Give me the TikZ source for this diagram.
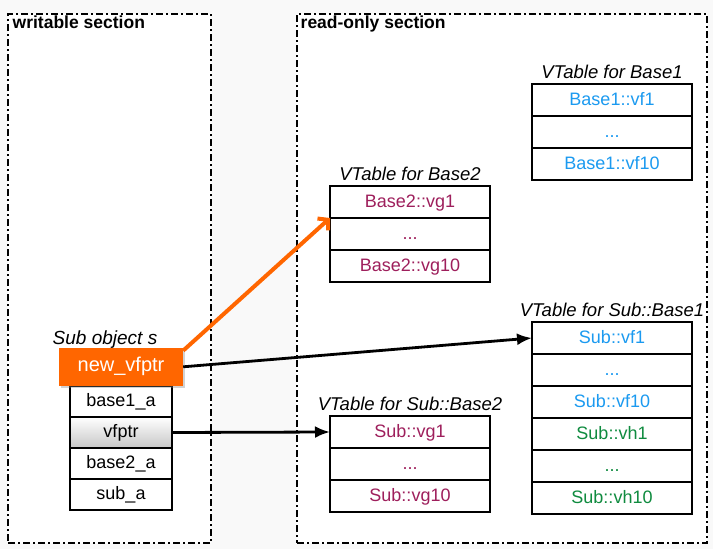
\documentclass[tikz,border=0pt]{standalone}
\usepackage{fontspec}
\setmainfont{Liberation Sans}
\usetikzlibrary{positioning,arrows.meta,shadows}
\definecolor{pagegrey}{HTML}{F9F9F9}
\definecolor{vfblue}{HTML}{1B9AF0}
\definecolor{vgred}{HTML}{9E1F5C}
\definecolor{vhgreen}{HTML}{0F8B3F}
\definecolor{ptrorange}{HTML}{FF6600}
\newcommand{\cellfont}{\fontsize{18}{21}\selectfont}

\begin{document}
\begin{tikzpicture}[x=1pt,y=-1pt,
    section/.style={draw, fill=white, line width=1.3pt, dash pattern=on 7pt off 3pt on 2pt off 3pt,
      anchor=north west, inner sep=0pt, outer sep=0pt},
    secttitle/.style={anchor=north west, inner sep=0pt, font=\fontsize{17.5}{21}\selectfont\bfseries},
    vtitle/.style={inner sep=0pt, font=\fontsize{18.5}{22}\selectfont\itshape},
    slot/.style={draw, line width=1.2pt, fill=white, minimum width=160pt, minimum height=32pt,
      inner sep=0pt, outer sep=0pt, text height=12.5pt, text depth=2pt, font=\cellfont},
    field/.style={slot, minimum width=102pt, minimum height=31pt},
    ptr/.style={line width=2.8pt, -{Latex[length=15pt,width=12pt]}},
    newptr/.style={line width=4pt, draw=ptrorange, -{Straight Barb[length=7pt,width=16pt]}}]
  \fill[pagegrey] (0,0) rectangle (713,549);
  \useasboundingbox (0,0) rectangle (713,549);

  % the two sections
  \node[section, minimum width=203pt, minimum height=529pt] (writable) at (8,14) {};
  \node[section, minimum width=410pt, minimum height=529pt] (readonly) at (297,14) {};
  \node[secttitle, below right=1.5pt and 4.5pt of writable.north west] (wtitle) {writable section};
  \node[secttitle, below right=1.5pt and 3.5pt of readonly.north west] (rtitle) {read-only section};

  % VTable for Base1
  \node[slot, text=vfblue, anchor=north west] (b1r1) at (532,84) {Base1::vf1};
  \node[slot, text=vfblue, below=0pt of b1r1] (b1r2) {...};
  \node[slot, text=vfblue, below=0pt of b1r2] (b1r3) {Base1::vf10};
  \node[vtitle, above=5pt of b1r1] (b1title) {VTable for Base1};

  % VTable for Base2
  \node[slot, text=vgred, anchor=north west] (b2r1) at (330,186) {Base2::vg1};
  \node[slot, text=vgred, below=0pt of b2r1] (b2r2) {...};
  \node[slot, text=vgred, below=0pt of b2r2] (b2r3) {Base2::vg10};
  \node[vtitle, above=5pt of b2r1] (b2title) {VTable for Base2};

  % VTable for Sub::Base1
  \node[slot, text=vfblue, anchor=north west] (sb1r1) at (532,322) {Sub::vf1};
  \node[slot, text=vfblue, below=0pt of sb1r1] (sb1r2) {...};
  \node[slot, text=vfblue, below=0pt of sb1r2] (sb1r3) {Sub::vf10};
  \node[slot, text=vhgreen, below=0pt of sb1r3] (sb1r4) {Sub::vh1};
  \node[slot, text=vhgreen, below=0pt of sb1r4] (sb1r5) {...};
  \node[slot, text=vhgreen, below=0pt of sb1r5] (sb1r6) {Sub::vh10};
  \node[vtitle, above=5pt of sb1r1] (sb1title) {VTable for Sub::Base1};

  % VTable for Sub::Base2
  \node[slot, text=vgred, anchor=north west] (sb2r1) at (330,416) {Sub::vg1};
  \node[slot, text=vgred, below=0pt of sb2r1] (sb2r2) {...};
  \node[slot, text=vgred, below=0pt of sb2r2] (sb2r3) {Sub::vg10};
  \node[vtitle, above=5pt of sb2r1] (sb2title) {VTable for Sub::Base2};

  % Sub object s
  \node[field, anchor=north west] (base1a) at (70,386) {base1\_a};
  \node[field, below=0pt of base1a, top color=white, bottom color=black!22] (vfptr) {vfptr};
  \node[field, below=0pt of vfptr] (base2a) {base2\_a};
  \node[field, below=0pt of base2a] (suba) {sub\_a};
  \node[above=0pt of base1a, fill=ptrorange, text=white, minimum width=124pt, minimum height=38pt,
    inner sep=0pt, font=\fontsize{20}{24}\selectfont,
    drop shadow={opacity=0.35, shadow xshift=2pt, shadow yshift=-2pt}] (newvfptr) {new\_vfptr};
  \node[anchor=base, inner sep=0pt, font=\fontsize{19}{22}\selectfont\itshape]
    (subtitle) at ([xshift=-16pt,yshift=3pt]newvfptr.north) {Sub object s};

  % pointers
  \draw[newptr] ([yshift=-3pt]newvfptr.north east) -- (b2r1.south west);
  \draw[ptr] (newvfptr.east) -- (sb1r1.west);
  \draw[ptr] (vfptr.east) -- (sb2r1.west);
\end{tikzpicture}
\end{document}
